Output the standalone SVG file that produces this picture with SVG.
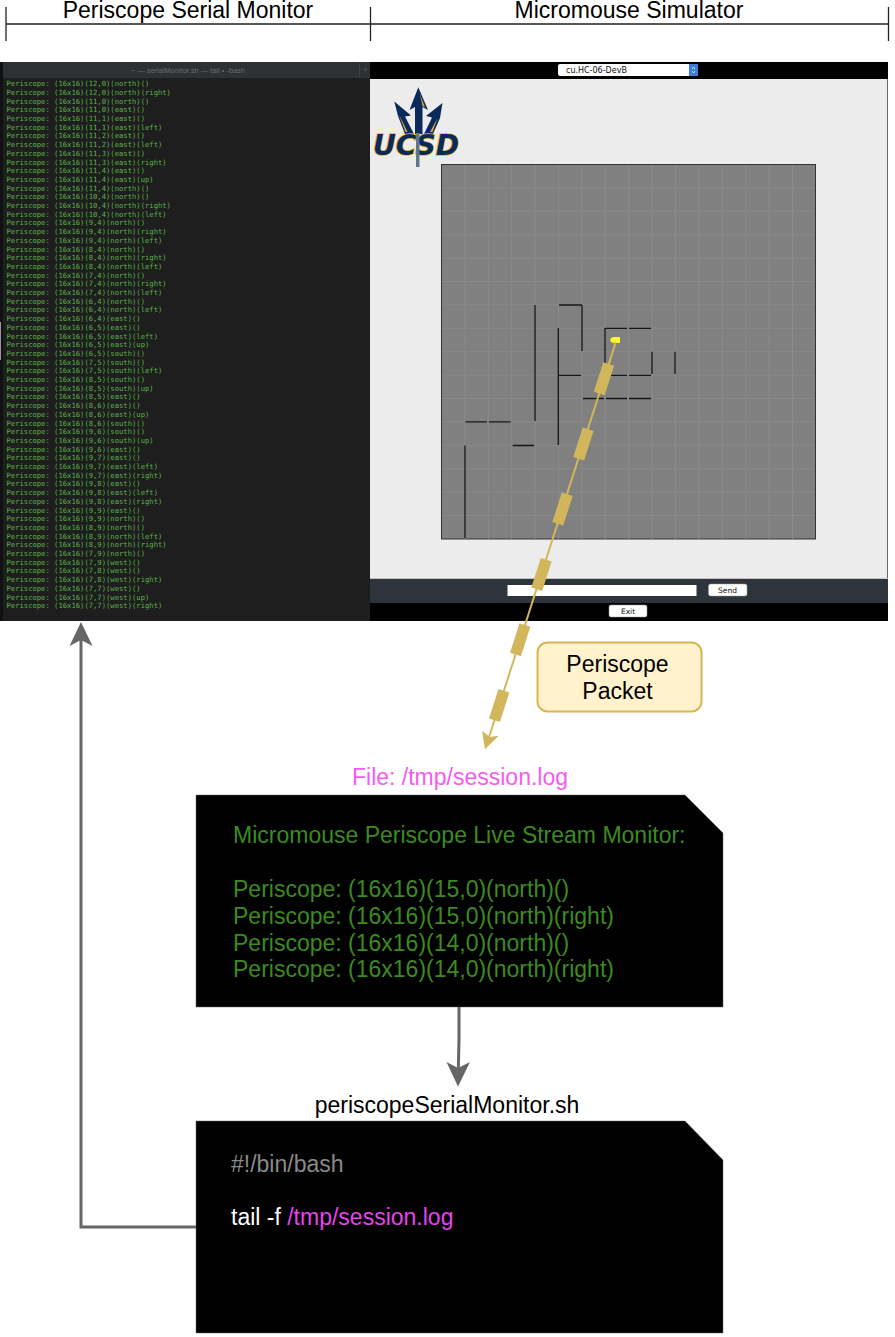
<svg xmlns="http://www.w3.org/2000/svg" width="895" height="1337" viewBox="0 0 895 1337">
<style>
text{font-family:"Liberation Sans",Arial,sans-serif}
.h{font-size:23px;fill:#000}
.mid{text-anchor:middle}
.t text{font-family:"DejaVu Sans Mono","Liberation Mono",monospace;font-size:7.2px;fill:#5ab548}
.g{font-size:23px;fill:#3c8a22}
.btn{fill:#fff;stroke:#999;stroke-width:.5}
.ui{font-size:7.5px;fill:#111;font-family:"DejaVu Sans","Liberation Sans",sans-serif;text-anchor:middle}
.grid{stroke:#8a8a8a;stroke-width:1;fill:none}
.wall{stroke:#161616;stroke-width:1.3;fill:none}
.pk{fill:#d2b65c}
.conn{fill:none;stroke:#666;stroke-width:3}
.box{fill:#000;stroke:#666;stroke-width:.5}
</style>
<g id="headers">
<path d="M6 7V41M370.5 7V41M888.5 7V41M6 24H888.5" fill="none" stroke="#222" stroke-width="1.3"/>
<text class="h mid" x="188" y="18">Periscope Serial Monitor</text>
<text class="h mid" x="629" y="18">Micromouse Simulator</text>
</g>
<g id="terminal">
<rect x="0" y="62" width="370" height="559" fill="#1e1e1e"/>
<rect x="0" y="62" width="3" height="559" fill="#111"/>
<rect x="0" y="322" width="1" height="38" fill="#999"/>
<rect x="3" y="62" width="367" height="16" fill="#2e3133"/>
<path d="M359.5 63V77" stroke="#444" fill="none"/>
<text x="188" y="73" font-size="7.4" fill="#6a6d6f" text-anchor="middle">~ — serialMonitor.sh — tail • -bash</text>
<text x="365.5" y="73" font-size="9" fill="#555" text-anchor="middle">+</text>
<g class="t">
<text x="6.5" y="86.2">Periscope: (16x16)(12,0)(north)()</text>
<text x="6.5" y="94.9">Periscope: (16x16)(12,0)(north)(right)</text>
<text x="6.5" y="103.6">Periscope: (16x16)(11,0)(north)()</text>
<text x="6.5" y="112.3">Periscope: (16x16)(11,0)(east)()</text>
<text x="6.5" y="121">Periscope: (16x16)(11,1)(east)()</text>
<text x="6.5" y="129.7">Periscope: (16x16)(11,1)(east)(left)</text>
<text x="6.5" y="138.4">Periscope: (16x16)(11,2)(east)()</text>
<text x="6.5" y="147.1">Periscope: (16x16)(11,2)(east)(left)</text>
<text x="6.5" y="155.8">Periscope: (16x16)(11,3)(east)()</text>
<text x="6.5" y="164.5">Periscope: (16x16)(11,3)(east)(right)</text>
<text x="6.5" y="173.2">Periscope: (16x16)(11,4)(east)()</text>
<text x="6.5" y="181.9">Periscope: (16x16)(11,4)(east)(up)</text>
<text x="6.5" y="190.6">Periscope: (16x16)(11,4)(north)()</text>
<text x="6.5" y="199.3">Periscope: (16x16)(10,4)(north)()</text>
<text x="6.5" y="208">Periscope: (16x16)(10,4)(north)(right)</text>
<text x="6.5" y="216.7">Periscope: (16x16)(10,4)(north)(left)</text>
<text x="6.5" y="225.4">Periscope: (16x16)(9,4)(north)()</text>
<text x="6.5" y="234.1">Periscope: (16x16)(9,4)(north)(right)</text>
<text x="6.5" y="242.8">Periscope: (16x16)(9,4)(north)(left)</text>
<text x="6.5" y="251.5">Periscope: (16x16)(8,4)(north)()</text>
<text x="6.5" y="260.2">Periscope: (16x16)(8,4)(north)(right)</text>
<text x="6.5" y="268.9">Periscope: (16x16)(8,4)(north)(left)</text>
<text x="6.5" y="277.6">Periscope: (16x16)(7,4)(north)()</text>
<text x="6.5" y="286.3">Periscope: (16x16)(7,4)(north)(right)</text>
<text x="6.5" y="295">Periscope: (16x16)(7,4)(north)(left)</text>
<text x="6.5" y="303.7">Periscope: (16x16)(6,4)(north)()</text>
<text x="6.5" y="312.4">Periscope: (16x16)(6,4)(north)(left)</text>
<text x="6.5" y="321.1">Periscope: (16x16)(6,4)(east)()</text>
<text x="6.5" y="329.8">Periscope: (16x16)(6,5)(east)()</text>
<text x="6.5" y="338.5">Periscope: (16x16)(6,5)(east)(left)</text>
<text x="6.5" y="347.2">Periscope: (16x16)(6,5)(east)(up)</text>
<text x="6.5" y="355.9">Periscope: (16x16)(6,5)(south)()</text>
<text x="6.5" y="364.6">Periscope: (16x16)(7,5)(south)()</text>
<text x="6.5" y="373.3">Periscope: (16x16)(7,5)(south)(left)</text>
<text x="6.5" y="382">Periscope: (16x16)(8,5)(south)()</text>
<text x="6.5" y="390.7">Periscope: (16x16)(8,5)(south)(up)</text>
<text x="6.5" y="399.4">Periscope: (16x16)(8,5)(east)()</text>
<text x="6.5" y="408.1">Periscope: (16x16)(8,6)(east)()</text>
<text x="6.5" y="416.8">Periscope: (16x16)(8,6)(east)(up)</text>
<text x="6.5" y="425.5">Periscope: (16x16)(8,6)(south)()</text>
<text x="6.5" y="434.2">Periscope: (16x16)(9,6)(south)()</text>
<text x="6.5" y="442.9">Periscope: (16x16)(9,6)(south)(up)</text>
<text x="6.5" y="451.6">Periscope: (16x16)(9,6)(east)()</text>
<text x="6.5" y="460.3">Periscope: (16x16)(9,7)(east)()</text>
<text x="6.5" y="469">Periscope: (16x16)(9,7)(east)(left)</text>
<text x="6.5" y="477.7">Periscope: (16x16)(9,7)(east)(right)</text>
<text x="6.5" y="486.4">Periscope: (16x16)(9,8)(east)()</text>
<text x="6.5" y="495.1">Periscope: (16x16)(9,8)(east)(left)</text>
<text x="6.5" y="503.8">Periscope: (16x16)(9,8)(east)(right)</text>
<text x="6.5" y="512.5">Periscope: (16x16)(9,9)(east)()</text>
<text x="6.5" y="521.2">Periscope: (16x16)(9,9)(north)()</text>
<text x="6.5" y="529.9">Periscope: (16x16)(8,9)(north)()</text>
<text x="6.5" y="538.6">Periscope: (16x16)(8,9)(north)(left)</text>
<text x="6.5" y="547.3">Periscope: (16x16)(8,9)(north)(right)</text>
<text x="6.5" y="556">Periscope: (16x16)(7,9)(north)()</text>
<text x="6.5" y="564.7">Periscope: (16x16)(7,9)(west)()</text>
<text x="6.5" y="573.4">Periscope: (16x16)(7,8)(west)()</text>
<text x="6.5" y="582.1">Periscope: (16x16)(7,8)(west)(right)</text>
<text x="6.5" y="590.8">Periscope: (16x16)(7,7)(west)()</text>
<text x="6.5" y="599.5">Periscope: (16x16)(7,7)(west)(up)</text>
<text x="6.5" y="608.2">Periscope: (16x16)(7,7)(west)(right)</text>
</g>
</g>
<g id="simulator">
<rect x="370" y="62" width="518" height="559" fill="#000"/>
<rect x="370" y="79" width="518" height="499" fill="#ececec"/>
<path d="M887.5 79V578" stroke="#666" fill="none"/>
<rect x="370" y="578" width="518" height="1" fill="#c4c4c4"/>
<rect x="370" y="579" width="518" height="24" fill="#2d343b"/>
<g id="port-select">
<rect x="558" y="64" width="140" height="12" rx="2" fill="#fff"/>
<path d="M689 64H696a2 2 0 0 1 2 2V74a2 2 0 0 1-2 2H689Z" fill="#3d7fe0"/>
<path d="M692 69l1.5-2 1.5 2M692 71l1.5 2 1.5-2" fill="none" stroke="#fff" stroke-width=".7"/>
<text x="566" y="72.7" font-size="8" fill="#111" style="font-family:'DejaVu Sans','Liberation Sans',sans-serif">cu.HC-06-DevB</text>
</g>
<g id="ucsd-logo">
<path d="M394.3 101.5L411 115.5L405 116.5L414 134H405L398 116Z" fill="#0b2a5c"/>
<path d="M442.5 103L426 116L432 117.5L424 134H433L440 118Z" fill="#0b2a5c"/>
<path d="M399 114.5L407.5 132H405.5ZM437.5 118L430 132H432.5Z" fill="#e3ab2a"/>
<path d="M418.3 87.3L428 110L422.5 107V134H415V107L409.5 110Z" fill="#0b2a5c"/>
<path d="M420 94L425 107.5L422.5 106Z" fill="#e3ab2a"/>
<text x="373" y="154.5" font-size="29" font-weight="700" font-style="italic" fill="#0b2a5c" stroke="#f0b429" stroke-width="1.6" paint-order="stroke" textLength="86" lengthAdjust="spacingAndGlyphs" style="font-family:'DejaVu Sans','Liberation Sans',sans-serif">UCSD</text>
<rect x="416" y="133" width="3.5" height="34" fill="#5f7590"/>
</g>
<g id="maze">
<rect x="441.5" y="164.5" width="374" height="374.5" fill="#808080" stroke="#333" stroke-width="1"/>
<path class="grid" d="M464.9 165V539M488.3 165V539M511.7 165V539M535.1 165V539M558.5 165V539M581.9 165V539M605.3 165V539M628.7 165V539M652.1 165V539M675.5 165V539M698.9 165V539M722.3 165V539M745.7 165V539M769.1 165V539M792.5 165V539M442 187.9H815M442 211.3H815M442 234.7H815M442 258.1H815M442 281.5H815M442 304.9H815M442 328.3H815M442 351.7H815M442 375.1H815M442 398.5H815M442 421.9H815M442 445.3H815M442 468.7H815M442 492.1H815M442 515.5H815"/>
<path class="wall" d="M535 305V421M559 305H582M582 305V351M558.3 328V445M558.3 375.3H581M605 328V375M605 328.3H627M629 328.3H651M605 375.3H627M629 375.3H651M652 351.7V374M675 351.7V374M583 398.5H604M606 398.5H627M629 398.5H651M465.5 421.9H487M489 421.9H510.7M512.7 445.5H534M465 445.5V538"/>
<path d="M613 337H620V343H613Q610 342 610 340Q610 338 613 337Z" fill="#fdf52f"/>
</g>
<g id="serial-input">
<rect x="507.5" y="585" width="189" height="11" fill="#fff"/>
<rect class="btn" x="708.5" y="584" width="38.5" height="12" rx="2"/>
<text class="ui" x="727.5" y="593">Send</text>
</g>
<g id="exit-button">
<rect class="btn" x="609" y="605" width="38" height="12" rx="2"/>
<text class="ui" x="628" y="614">Exit</text>
</g>
</g>
<g id="connectors">
<g id="packet-stream">
<path d="M615.8 342L486.5 745" fill="none" stroke="#d2b65c" stroke-width="2"/>
<path class="pk" d="M485 749.3L482 730.7L489.8 737L498.7 735.7Z"/>
<rect class="pk" x="-5.7" y="-15.5" width="11.4" height="31" transform="translate(604 378.7) rotate(17.8)"/>
<rect class="pk" x="-5.7" y="-15.5" width="11.4" height="31" transform="translate(583.4 444) rotate(17.8)"/>
<rect class="pk" x="-5.7" y="-15.5" width="11.4" height="31" transform="translate(562.5 509) rotate(17.8)"/>
<rect class="pk" x="-5.7" y="-15.5" width="11.4" height="31" transform="translate(541.5 574.5) rotate(17.8)"/>
<rect class="pk" x="-5.7" y="-15.5" width="11.4" height="31" transform="translate(520.2 639.7) rotate(17.8)"/>
<rect class="pk" x="-5.7" y="-15.5" width="11.4" height="31" transform="translate(499.2 705.5) rotate(17.8)"/>
</g>
<path class="conn" d="M459 1007V1040L458.3 1070"/>
<path d="M458 1086.5L446.5 1062L458 1068L470 1062Z" fill="#666"/>
<path class="conn" d="M196 1227H81V640"/>
<path d="M81 622L92.5 646L81 640L69.5 646Z" fill="#666"/>
</g>
<g id="packet-label">
<rect x="537.5" y="642.5" width="164" height="69" rx="10" fill="#fff2cc" stroke="#d6b656" stroke-width="2"/>
<text class="h mid" x="617.5" y="672">Periscope</text>
<text class="h mid" x="617.5" y="699">Packet</text>
</g>
<g id="session-log">
<text class="h mid" x="460" y="785" style="fill:#f45cf0">File: /tmp/session.log</text>
<path class="box" d="M196 795H685L723 833V1007H196Z"/>
<text class="g" x="233" y="843">Micromouse Periscope Live Stream Monitor:</text>
<text class="g" x="233" y="897">Periscope: (16x16)(15,0)(north)()</text>
<text class="g" x="233" y="923.5">Periscope: (16x16)(15,0)(north)(right)</text>
<text class="g" x="233" y="950.5">Periscope: (16x16)(14,0)(north)()</text>
<text class="g" x="233" y="977">Periscope: (16x16)(14,0)(north)(right)</text>
</g>
<g id="monitor-script">
<text class="h mid" x="447" y="1113">periscopeSerialMonitor.sh</text>
<path class="box" d="M196 1121H685L723 1160V1333H196Z"/>
<text x="231" y="1171.5" font-size="23" fill="#8a8a8a">#!/bin/bash</text>
<text x="231" y="1225" font-size="23" fill="#fff">tail -f <tspan fill="#e544ea">/tmp/session.log</tspan></text>
</g>
</svg>
